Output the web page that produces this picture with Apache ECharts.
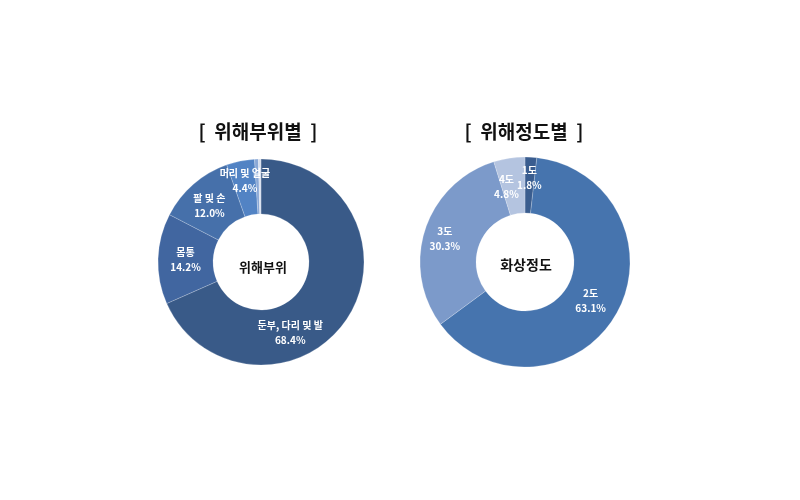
<!DOCTYPE html>
<html><head><meta charset="utf-8">
<script src="https://cdn.jsdelivr.net/npm/echarts@6/dist/echarts.min.js"></script>
<style>html,body{margin:0;padding:0;background:#fff}#c{width:800px;height:500px}</style>
</head><body><div id="c"></div>
<script>
const partCategories = ['둔부, 다리 및 발', '몸통', '팔 및 손', '머리 및 얼굴', '기타', '미상'];
const partValues = [68.4, 14.2, 12.0, 4.4, 0.6, 0.4];
const partShowLabel = [true, true, true, true, false, false];
const degreeCategories = ['1도', '2도', '3도', '4도'];
const degreeValues = [1.8, 63.1, 30.3, 4.8];
const titles = ['[  위해부위별  ]', '[  위해정도별  ]'];
const centerTexts = ['위해부위', '화상정도'];

const FONT = '"Noto Sans CJK KR", sans-serif';
const partColors = ['#395A88', '#4166A0', '#4670AA', '#5283C4', '#8AA8D6', '#D6DEEE'];
const partOffsets = [[-34, 29], [0, 0], [-2, 1], [-1, -7], [0, 0], [0, 0]];
const degreeColors = ['#3A5D8F', '#4674AE', '#7C9ACA', '#B4C4E0'];
const degreeOffsets = [[0, -7], [-1, 0], [-7, 1], [-7, 1]];

const pies = [
  {center: [261, 262], radius: [48, 103], values: partValues, offsets: partOffsets},
  {center: [525, 262], radius: [49, 105], values: degreeValues, offsets: degreeOffsets}
];

function labelFmt(p) { return p.name + '\n' + p.value.toFixed(1) + '%'; }

function layoutLabel(params) {
  const pie = pies[params.seriesIndex];
  const vals = pie.values;
  const total = vals.reduce((a, b) => a + b, 0);
  let before = 0;
  for (let i = 0; i < params.dataIndex; i++) before += vals[i];
  const mid = (before + vals[params.dataIndex] / 2) / total * 2 * Math.PI;
  const rm = (pie.radius[0] + pie.radius[1]) / 2;
  const off = pie.offsets[params.dataIndex];
  return {
    x: pie.center[0] + rm * Math.sin(mid) + off[0],
    y: pie.center[1] - rm * Math.cos(mid) + off[1],
    align: 'center', verticalAlign: 'middle'
  };
}

const labelStyle = {position: 'outside', alignTo: 'none', formatter: labelFmt, color: '#fff',
  fontFamily: FONT, fontSize: 10, fontWeight: 'bold', lineHeight: 15, align: 'center'};

const chart = echarts.init(document.getElementById('c'), null, {renderer: 'canvas'});
chart.setOption({
  backgroundColor: '#ffffff',
  animation: false,
  title: [
    {text: titles[0], left: 253, top: 117, textAlign: 'center',
     textStyle: {fontFamily: FONT, fontSize: 19, fontWeight: 'bold', color: '#111'}},
    {text: titles[1], left: 519, top: 117, textAlign: 'center',
     textStyle: {fontFamily: FONT, fontSize: 19, fontWeight: 'bold', color: '#111'}},
    {text: centerTexts[0], left: 258, top: 256, textAlign: 'center',
     textStyle: {fontFamily: FONT, fontSize: 13, fontWeight: 'bold', color: '#111'}},
    {text: centerTexts[1], left: 521, top: 253, textAlign: 'center',
     textStyle: {fontFamily: FONT, fontSize: 14, fontWeight: 'bold', color: '#111'}}
  ],
  series: [
    {
      type: 'pie', center: pies[0].center, radius: pies[0].radius, startAngle: 90, clockwise: true,
      avoidLabelOverlap: false,
      itemStyle: {borderColor: 'rgba(255,255,255,0.35)', borderWidth: 0.6},
      label: labelStyle,
      labelLine: {show: false},
      labelLayout: layoutLabel,
      emphasis: {disabled: true},
      data: partCategories.map((n, i) => ({
        name: n, value: partValues[i],
        itemStyle: {color: partColors[i]},
        label: {show: partShowLabel[i]}
      }))
    },
    {
      type: 'pie', center: pies[1].center, radius: pies[1].radius, startAngle: 90, clockwise: true,
      avoidLabelOverlap: false,
      itemStyle: {borderColor: 'rgba(255,255,255,0.35)', borderWidth: 0.6},
      label: labelStyle,
      labelLine: {show: false},
      labelLayout: layoutLabel,
      emphasis: {disabled: true},
      data: degreeCategories.map((n, i) => ({
        name: n, value: degreeValues[i],
        itemStyle: {color: degreeColors[i]}
      }))
    }
  ]
});
</script></body></html>
